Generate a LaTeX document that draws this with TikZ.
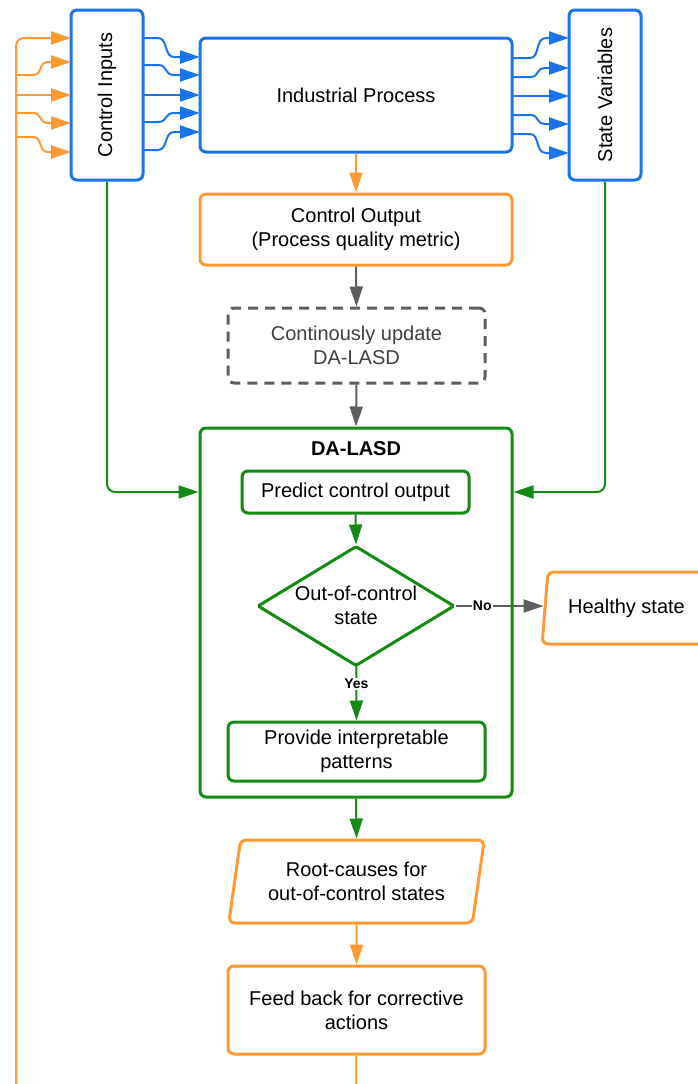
\documentclass[tikz,border=0pt]{standalone}
\usepackage{fontspec}
\setmainfont{Liberation Sans}
\usepackage{graphicx}
\usetikzlibrary{arrows.meta,shapes.geometric,backgrounds}
\definecolor{bl}{HTML}{1A73E8}
\definecolor{orr}{HTML}{FF9933}
\definecolor{grn}{HTML}{148A14}
\definecolor{gry}{HTML}{5E5E5E}
\definecolor{txtgry}{HTML}{404040}
\begin{document}
\begin{tikzpicture}[x=1pt,y=-1pt,
  font=\fontsize{20}{24}\selectfont,
  box/.style={draw, line width=3pt, rounded corners=6pt, align=center, fill=white, inner sep=0pt},
  conn/.style={line width=2pt, -{Triangle[length=20pt,width=13pt]}},
  lbl/.style={font=\bfseries\fontsize{14}{16}\selectfont, fill=white, inner sep=1pt, text=black},
 ]
\useasboundingbox (0,0) rectangle (698,1084);
\clip (0,0) rectangle (698,1084);

% top row: inputs, process, state variables
\node[box, draw=bl, minimum width=72pt, minimum height=170pt] (ci) at (107,95) {\rotatebox{90}{Control Inputs}};
\node[box, draw=bl, minimum width=312pt, minimum height=114pt] (ip) at (356,95) {Industrial Process};
\node[box, draw=bl, minimum width=72pt, minimum height=170pt] (sv) at (605,95) {\rotatebox{90}{State Variables}};

% process output chain
\node[box, draw=orr, minimum width=312pt, minimum height=71pt] (co) at (356,229.5) {Control Output\\(Process quality metric)};
\node[box, draw=gry, dash pattern=on 10pt off 7pt, text=txtgry, minimum width=257pt, minimum height=75pt] (upd) at (356.5,345.5) {Continously update\\DA-LASD};

% DA-LASD container and its steps
\node[box, draw=grn, fill=none, minimum width=312pt, minimum height=369pt] (dal) at (356,612.5) {};
\node[font=\bfseries\fontsize{20}{24}\selectfont] (daltitle) at (356,449) {DA-LASD};
\node[box, draw=grn, minimum width=227pt, minimum height=42pt] (pred) at (355.5,492) {Predict control output};
\node[draw=grn, line width=3pt, diamond, fill=white, rounded corners=1.5pt, minimum width=197pt, minimum height=120pt, inner sep=0pt] (dia) at (356,606) {};
\node[align=center] (diatext) at (356,605) {Out-of-control\\state};
\node[box, draw=grn, minimum width=257pt, minimum height=59pt] (pat) at (356.5,751.5) {Provide interpretable\\patterns};

% outcomes
\node[box, draw=orr, trapezium, trapezium left angle=77, trapezium right angle=103, trapezium stretches=true, minimum width=169pt, minimum height=72pt] (hs) at (626.5,608) {Healthy state};
\node[box, draw=orr, trapezium, trapezium left angle=77, trapezium right angle=103, trapezium stretches=true, minimum width=256pt, minimum height=83pt] (root) at (356.5,881.5) {Root-causes for\\out-of-control states};
\node[box, draw=orr, minimum width=257pt, minimum height=88pt] (fb) at (356.5,1010) {Feed back for corrective\\actions};

% control inputs into the process
\foreach \a/\b in {38/57,65/75,95/95,122/113,150/132}
  \draw[conn, bl] (143,\a) -- (158,\a) .. controls (168,\a) and (164,\b) .. (174,\b) -- (200,\b);
% process into state variables
\foreach \a/\b in {58/38,77/68,96/96,115/124,134/153}
  \draw[conn, bl] (512,\a) -- (530,\a) .. controls (540,\a) and (535,\b) .. (546,\b) -- (569,\b);

% feedback loop back to the control inputs
\draw[conn, orr, rounded corners=8pt] (fb.south) -- (356,1110) -- (16,1110) -- (16,38) -- (71,38);
\foreach \a/\b in {75/62,113/123,137/152}
  \draw[conn, orr] (16,\a) -- (33,\a) .. controls (43,\a) and (38,\b) .. (48,\b) -- (71,\b);
\draw[conn, orr] (16,95) -- (71,95);

% main flow
\draw[conn, orr] (ip.south) -- (co.north);
\draw[conn, gry] (co.south) -- (upd.north);
\draw[conn, gry] (upd.south) -- (dal.north);
\draw[conn, grn] (pred.south) -- (dia.north);
\draw[conn, grn] (dal.south) -- (root.north);
\draw[conn, orr] (root.south) -- (fb.north);
\begin{scope}[on background layer]
  % both decision branches start under the filled diamond
  \draw[conn, grn] (dia.center) -- node[lbl, pos=0.68] {Yes} (pat.north);
  \draw[conn, gry] (dia.east) -- node[lbl, pos=0.3] {No} (dia.east -| hs.west);
\end{scope}

% side inputs into DA-LASD
\draw[conn, grn, rounded corners=8pt] (ci.south) |- (pred.west -| dal.west);
\draw[conn, grn, rounded corners=8pt] (sv.south) |- (pred.east -| dal.east);
\end{tikzpicture}
\end{document}
